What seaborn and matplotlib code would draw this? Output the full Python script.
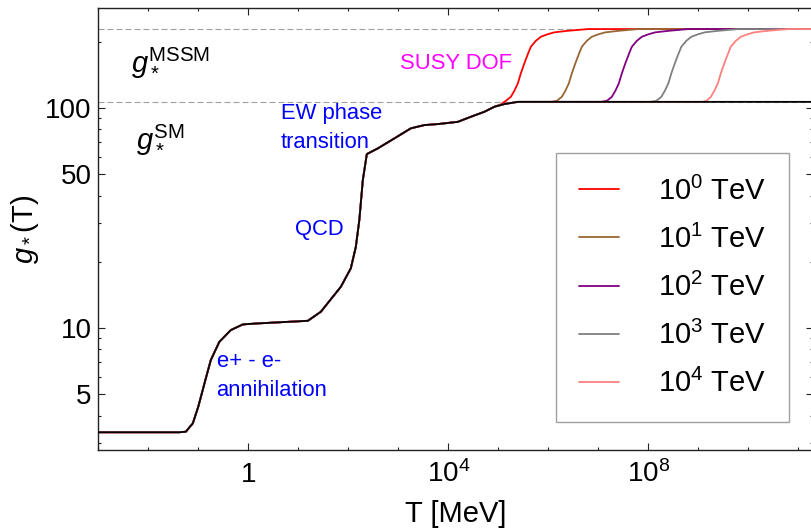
import matplotlib
matplotlib.use("Agg")
import matplotlib.pyplot as plt
import matplotlib.ticker as mticker
import numpy as np
import pandas as pd
import seaborn as sns

# g_*(T) of the Standard Model (T as log10 of MeV)
sm_log_t = [-3.2, -1.38, -1.25, -1.11, -1.0, -0.85, -0.75, -0.58, -0.35, -0.11,
            0.19, 1.19, 1.45, 1.85, 2.05, 2.15, 2.22, 2.29, 2.37, 2.59,
            2.92, 3.25, 3.52, 3.79, 4.19, 4.45, 4.72, 4.92, 5.12, 5.39, 11.5]
sm_g = [3.36, 3.36, 3.38, 3.69, 4.4, 5.91, 7.16, 8.66, 9.79, 10.39,
        10.5, 10.79, 11.86, 15.4, 18.7, 23.4, 31.0, 47.1, 61.8, 65.6,
        72.8, 80.9, 83.7, 84.6, 86.6, 91.3, 96.2, 101.4, 104.3, 106.75, 106.75]

G_SM = 106.75
G_MSSM = 228.75

# SUSY thresholds: where each curve leaves the SM line and climbs to g_MSSM
susy_labels = [r"$\mathregular{10^{0}}$ TeV ", r"$\mathregular{10^{1}}$ TeV ",
               r"$\mathregular{10^{2}}$ TeV ", r"$\mathregular{10^{3}}$ TeV ",
               r"$\mathregular{10^{4}}$ TeV "]
susy_colors = ["#ff0000", "#996633", "#800080", "#808080", "#ff8080"]
susy_log_t = [
    [5.05, 5.15, 5.25, 5.32, 5.39, 5.45, 5.52, 5.59, 5.65, 5.75, 5.85, 5.99, 6.12, 6.39, 6.8, 11.5],
    [6.05, 6.17, 6.27, 6.34, 6.41, 6.47, 6.54, 6.61, 6.67, 6.77, 6.87, 7.01, 7.14, 7.41, 7.8, 11.5],
    [7.05, 7.17, 7.27, 7.34, 7.41, 7.47, 7.54, 7.61, 7.67, 7.77, 7.87, 8.01, 8.14, 8.41, 8.8, 11.5],
    [8.05, 8.16, 8.26, 8.33, 8.40, 8.46, 8.53, 8.60, 8.66, 8.76, 8.86, 9.00, 9.13, 9.40, 9.8, 11.5],
    [9.08, 9.16, 9.25, 9.32, 9.39, 9.45, 9.52, 9.59, 9.65, 9.75, 9.85, 9.99, 10.12, 10.39, 10.8, 11.5],
]
susy_g = [
    [104.0, 107.9, 112.5, 119.8, 129.5, 143.8, 159.7, 175.9, 190, 202.2, 211, 216.8, 221, 224.6, 228.75, 228.75],
    [106.75, 107.9, 112.5, 119.8, 129.5, 143.8, 159.7, 175.9, 190, 202.2, 211, 216.8, 221, 224.6, 228.75, 228.75],
    [106.75, 107.9, 112.5, 119.8, 129.5, 143.8, 159.7, 175.9, 190, 202.2, 211, 216.8, 221, 224.6, 228.75, 228.75],
    [106.75, 107.9, 112.5, 119.8, 129.5, 143.8, 159.7, 175.9, 190, 202.2, 211, 216.8, 221, 224.6, 228.75, 228.75],
    [106.75, 107.9, 112.5, 119.8, 129.5, 143.8, 159.7, 175.9, 190, 202.2, 211, 216.8, 221, 224.6, 228.75, 228.75],
]

sns.set_theme(style="ticks")
plt.rcParams["font.family"] = ["Liberation Sans", "DejaVu Sans"]
plt.rcParams["mathtext.fontset"] = "custom"
plt.rcParams["mathtext.rm"] = "Liberation Sans"
plt.rcParams["mathtext.it"] = "Liberation Sans:italic"
plt.rcParams["mathtext.bf"] = "Liberation Sans:bold"
plt.rcParams["font.size"] = 20
plt.rcParams["text.color"] = "black"
plt.rcParams["axes.labelcolor"] = "black"
plt.rcParams["xtick.labelcolor"] = "black"
plt.rcParams["ytick.labelcolor"] = "black"

fig = plt.figure(figsize=(8.12, 5.29), dpi=100)
ax = fig.add_axes([0.1211, 0.1493, 0.8806, 0.8355])

ax.axhline(G_MSSM, color="#a0a0a0", lw=0.8, ls=(0, (5.4, 2.7)), zorder=1)
ax.axhline(G_SM, color="#a0a0a0", lw=0.8, ls=(0, (5.4, 2.7)), zorder=1)

sm = pd.DataFrame({"T": 10 ** np.array(sm_log_t), "g": sm_g})
for lt, gv, col, lab in zip(susy_log_t, susy_g, susy_colors, susy_labels):
    low = sm[sm["T"] < 10 ** lt[0]]
    rise = pd.DataFrame({"T": 10 ** np.array(lt), "g": gv})
    curve = pd.concat([low, rise], ignore_index=True)
    sns.lineplot(data=curve, x="T", y="g", ax=ax, color=col, lw=1.3,
                 sort=False, estimator=None, label=lab, zorder=2)
sns.lineplot(data=sm, x="T", y="g", ax=ax, color="black", lw=1.3,
             sort=False, estimator=None, label="_sm", zorder=3)

ax.set_xscale("log")
ax.set_yscale("log")
ax.set_xlim(1e-3, 2e11)
ax.set_ylim(2.79, 285)

ax.xaxis.set_major_locator(mticker.FixedLocator([1, 1e4, 1e8]))
ax.xaxis.set_major_formatter(mticker.FixedFormatter(
    ["1", r"$\mathregular{10^{4}}$", r"$\mathregular{10^{8}}$"]))
ax.xaxis.set_minor_locator(mticker.LogLocator(base=10, subs=(1.0,), numticks=50))
ax.xaxis.set_minor_formatter(mticker.NullFormatter())
ax.yaxis.set_major_locator(mticker.FixedLocator([5, 10, 50, 100]))
ax.yaxis.set_major_formatter(mticker.FixedFormatter(["5", "10", "50", "100"]))
ax.yaxis.set_minor_locator(mticker.LogLocator(base=10, subs=np.arange(2, 10), numticks=50))
ax.yaxis.set_minor_formatter(mticker.NullFormatter())

ax.tick_params(which="both", direction="in", top=True, right=True,
               width=0.8, color="#222222", labelsize=20, labelcolor="black")
ax.tick_params(which="major", length=4.8)
ax.tick_params(which="minor", length=2.4)
ax.tick_params(axis="y", pad=4.7)
ax.tick_params(axis="x", pad=23)
for lab in ax.get_xticklabels():
    lab.set_va("baseline")

for side in ["left", "bottom", "top", "right"]:
    ax.spines[side].set_color("#222222")
    ax.spines[side].set_linewidth(1.0)

ax.set_xlabel("T [MeV]", fontsize=21, labelpad=9, color="black")
ax.set_ylabel(r"$g_*$(T)", fontsize=21, labelpad=3, color="black")

ax.text(0.00443, 147.3, r"$g_*^{\mathrm{MSSM}}$", fontsize=21, ha="left", va="baseline")
ax.text(0.00565, 65.8, r"$g_*^{\mathrm{SM}}$", fontsize=21, ha="left", va="baseline")
ax.text(1096, 150.0, "SUSY DOF", color="#ff00ff", fontsize=15.8, ha="left", va="baseline")
ax.text(4.43, 89.1, "EW phase", color="#0000ff", fontsize=15.8, ha="left", va="baseline")
ax.text(4.43, 65.8, "transition", color="#0000ff", fontsize=15.8, ha="left", va="baseline")
ax.text(8.43, 26.5, "QCD", color="#0000ff", fontsize=15.8, ha="left", va="baseline")
ax.text(0.232, 6.66, "e+ - e-", color="#0000ff", fontsize=15.8, ha="left", va="baseline")
ax.text(0.232, 4.89, "annihilation", color="#0000ff", fontsize=15.8, ha="left", va="baseline")

ax.legend(loc="upper left", bbox_to_anchor=(0.6844, 0.7113), bbox_transform=fig.transFigure,
          borderaxespad=0, fontsize=21, frameon=True, fancybox=False, framealpha=1,
          edgecolor="#a0a0a0", handlelength=1.37, handletextpad=1.31,
          labelspacing=0.65, borderpad=0.81)
ax.get_legend().get_frame().set_linewidth(1.0)

fig.savefig("out.png", dpi=100)
